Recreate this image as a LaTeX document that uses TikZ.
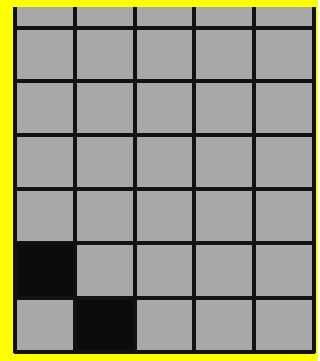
\documentclass[tikz,border=0pt]{standalone}
\usepackage{tikz}
\definecolor{framecolor}{RGB}{255, 255, 0}
\definecolor{cellcolor}{RGB}{168, 168, 168}
\definecolor{darkcell}{RGB}{12, 12, 12}
\definecolor{gridcolor}{RGB}{18, 18, 18}
\tikzset{
frame/.style={
  fill=framecolor
},
cell/.style={
  fill=cellcolor
},
blackcell/.style={
  fill=darkcell
},
gridline/.style={
  draw=gridcolor,
  line width=2.3pt
}
}
\begin{document}
\begin{tikzpicture}[x=0.75pt,y=-0.75pt]
  \useasboundingbox (0,0) rectangle (320,361);
  \fill[white] (0,0) rectangle (320,361);
  % yellow frame and grey board
  \path[frame] (0,0) rectangle (318,361);
  \path[cell] (15,7) rectangle (314,352);
  % the two black squares
  \path[blackcell] (15,243) rectangle (75,298);
  \path[blackcell] (75,298) rectangle (135,352);
  % grid
  \foreach \xx in {15,75,135,194,254,314}
    \draw[gridline] (\xx,7) -- (\xx,353);
  \foreach \yy in {28,81,135,189,243,298,352}
    \draw[gridline] (14,\yy) -- (315,\yy);
\end{tikzpicture}
\end{document}
